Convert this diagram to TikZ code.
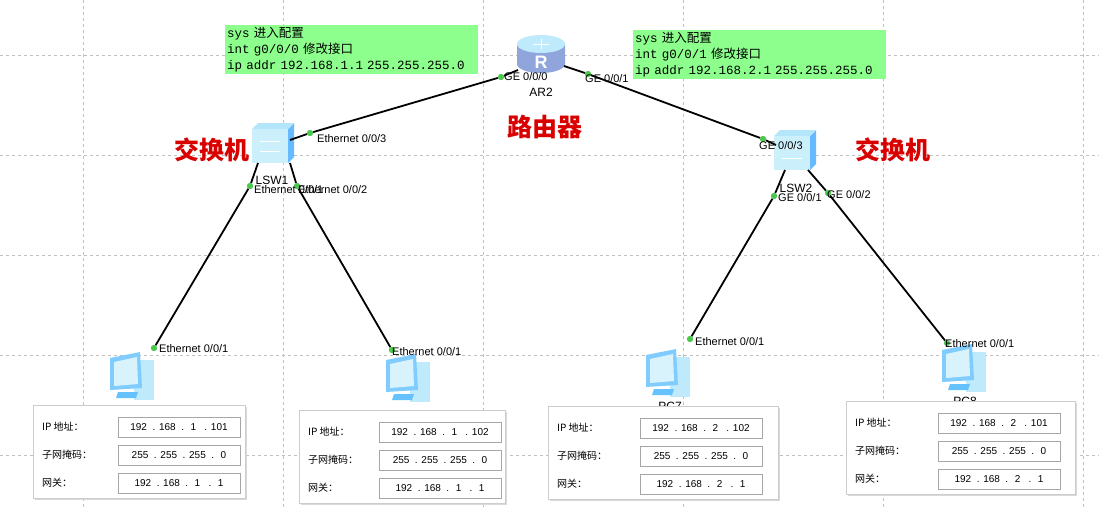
\documentclass[tikz,border=0pt]{standalone}
\usepackage{fontspec}
\setmainfont{Liberation Sans}
\setmonofont{Liberation Mono}
\newfontfamily\cjk{Noto Sans CJK SC}
\begin{document}
\begin{tikzpicture}[x=1pt,y=-1pt,
  lbl/.style={font=\fontsize{11}{12}\selectfont,inner sep=0pt},
  dev/.style={font=\fontsize{12}{13}\selectfont,inner sep=0pt},
  red/.style={font=\cjk\bfseries\fontsize{25}{26}\selectfont,text=red!85!black,inner sep=0pt},
  link/.style={line width=1.8pt,black},
  port/.style={circle,fill=green!70!black!70,inner sep=0pt,minimum size=6pt},
  cfg/.style={fill=green!45!white,inner sep=2pt,align=left,anchor=north west,text width=249pt,font=\ttfamily\fontsize{12.5}{16}\selectfont},
  grid/.style={gray!50,dashed,line width=0.6pt}]
\useasboundingbox (0,0) rectangle (1099,507);
\fill[white] (0,0) rectangle (1099,507);
\foreach \x in {83,283,483,683,883,1083} \draw[grid] (\x,0) -- (\x,507);
\foreach \y in {55,155,255,355,455} \draw[grid] (0,\y) -- (1099,\y);
% config boxes
\node[cfg] (c1) at (225,25) {sys {\cjk 进入配置}\\int g0/0/0 {\cjk 修改接口}\\ip addr 192.168.1.1 255.255.255.0};
\node[cfg] (c2) at (633,30) {sys {\cjk 进入配置}\\int g0/0/1 {\cjk 修改接口}\\ip addr 192.168.2.1 255.255.255.0};
% router
\fill[cyan!40!blue!45] (517,44) -- (517,64) arc[start angle=180,end angle=0,x radius=24,y radius=9] -- (565,44) -- cycle;
\fill[cyan!25] (541,44) ellipse[x radius=24,y radius=9];
\draw[white,line width=0.8pt] (533,44) -- (549,44) (541,39) -- (541,49);
\node[font=\bfseries\fontsize{18}{18}\selectfont,text=white,inner sep=0pt] (rr) at (541,62) {R};
\node[dev] (ar2) at (541,92) {AR2};
% switches
\newcommand\swicon[2]{%
 \fill[blue!45!cyan!60] (#1+18,#2-14) -- (#1+24,#2-20) -- (#1+24,#2+14) -- (#1+18,#2+20) -- cycle;
 \fill[cyan!30] (#1-18,#2-14) -- (#1-12,#2-20) -- (#1+24,#2-20) -- (#1+18,#2-14) -- cycle;
 \fill[cyan!20] (#1-18,#2-14) rectangle (#1+18,#2+20);
 \draw[white,line width=1pt] (#1-10,#2-2) -- (#1+10,#2-2) (#1-10,#2+8) -- (#1+10,#2+8);}
\swicon{270}{143}
\swicon{792}{150}
\node[dev] (lsw1) at (272,180) {LSW1};
\node[dev] (lsw2) at (796,188) {LSW2};
% PCs
\newcommand\pcicon[2]{%
 \fill[cyan!25] (#1+2,#2-18) rectangle (#1+22,#2+22);
 \fill[blue!40!cyan!50] (#1-22,#2-20) -- (#1+8,#2-26) -- (#1+10,#2+10) -- (#1-22,#2+12) -- cycle;
 \fill[cyan!15] (#1-18,#2-16) -- (#1+5,#2-21) -- (#1+6,#2+6) -- (#1-18,#2+8) -- cycle;
 \fill[blue!40!cyan!60] (#1-14,#2+14) -- (#1+6,#2+14) -- (#1+4,#2+20) -- (#1-16,#2+20) -- cycle;}
\pcicon{132}{378}
\pcicon{408}{380}
\pcicon{668}{375}
\pcicon{964}{370}
\node[dev] (pc4) at (135,413) {PC4};
\node[dev] (pc5) at (410,416) {PC5};
\node[dev] (pc7) at (670,406) {PC7};
\node[dev] (pc8) at (965,401) {PC8};
% ports
\node[port] (a0) at (501,77) {};
\node[port] (a1) at (588,74) {};
\node[port] (s13) at (310,133) {};
\node[port] (s11) at (250,186) {};
\node[port] (s12) at (297,186) {};
\node[port] (s23) at (763,139) {};
\node[port] (s21) at (774,196) {};
\node[port] (s22) at (828,193) {};
\node[port] (p4) at (154,348) {};
\node[port] (p5) at (392,350) {};
\node[port] (p7) at (690,339) {};
\node[port] (p8) at (947,343) {};
\draw[link] (a0) -- (s13); \draw[link] (a1) -- (s23);
\draw[link] (s11) -- (p4); \draw[link] (s12) -- (p5);
\draw[link] (s21) -- (p7); \draw[link] (s22) -- (p8);
\draw[link] (a0) -- (518,70); \draw[link] (a1) -- (564,66);
\draw[link] (s13) -- (290,140); \draw[link] (s23) -- (776,145);
\draw[link] (s11) -- (258,163); \draw[link] (s12) -- (290,163);
\draw[link] (s21) -- (785,170); \draw[link] (s22) -- (808,170);
\foreach \p in {a0,a1,s13,s11,s12,s23,s21,s22,p4,p5,p7,p8} \fill[green!70!black!70] (\p) circle (3pt);
% port labels
\node[lbl,anchor=west] (l1) at (504,77) {GE 0/0/0};
\node[lbl,anchor=west] (l2) at (585,79) {GE 0/0/1};
\node[lbl,anchor=west] (l3) at (317,139) {Ethernet 0/0/3};
\node[lbl,anchor=west] (l4) at (254,190) {Ethernet 0/0/1};
\node[lbl,anchor=west] (l5) at (298,190) {Ethernet 0/0/2};
\node[lbl,anchor=west] (l6) at (759,146) {GE 0/0/3};
\node[lbl,anchor=west] (l7) at (778,198) {GE 0/0/1};
\node[lbl,anchor=west] (l8) at (827,195) {GE 0/0/2};
\node[lbl,anchor=west] (l9) at (159,349) {Ethernet 0/0/1};
\node[lbl,anchor=west] (l10) at (392,352) {Ethernet 0/0/1};
\node[lbl,anchor=west] (l11) at (695,342) {Ethernet 0/0/1};
\node[lbl,anchor=west] (l12) at (945,344) {Ethernet 0/0/1};
% red labels
\node[red] (r1) at (212,150) {交换机};
\node[red] (r2) at (545,127) {路由器};
\node[red] (r3) at (893,150) {交换机};
% ip tables
\newcommand\iptab[6]{%
 \fill[gray!30] (#1+1.5,#2+1.5) rectangle (#1+#3+1.5,#2+93+1.5);
 \draw[gray!40,fill=white] (#1,#2) rectangle (#1+#3,#2+93);
 \foreach \r/\t/\v in {0/{IP 地址：}/{#4},1/{子网掩码：}/{255 \ . 255 \ . 255 \ . \ 0},2/{网关：}/{#5}}{%
   \node[anchor=west,font=\cjk\fontsize{10}{11}\selectfont,inner sep=0pt] at (#1+9,#2+22+\r*28) {\t};
   \draw[gray!70,fill=white] (#1+#6,#2+12+\r*28) rectangle (#1+#6+122,#2+32+\r*28);
   \node[font=\fontsize{10}{11}\selectfont,inner sep=0pt] at (#1+#6+61,#2+22+\r*28) {\v};}}
\iptab{33}{405}{212}{192 \ . 168 \ . \ 1 \ \ . 101}{192 \ . 168 \ . \ 1 \ \ . \ 1}{85}
\iptab{299}{410}{206}{192 \ . 168 \ . \ 1 \ \ . 102}{192 \ . 168 \ . \ 1 \ \ . \ 1}{80}
\iptab{548}{406}{230}{192 \ . 168 \ . \ 2 \ \ . 102}{192 \ . 168 \ . \ 2 \ \ . \ 1}{92}
\iptab{846}{401}{229}{192 \ . 168 \ . \ 2 \ \ . 101}{192 \ . 168 \ . \ 2 \ \ . \ 1}{92}
\end{tikzpicture}
\end{document}
